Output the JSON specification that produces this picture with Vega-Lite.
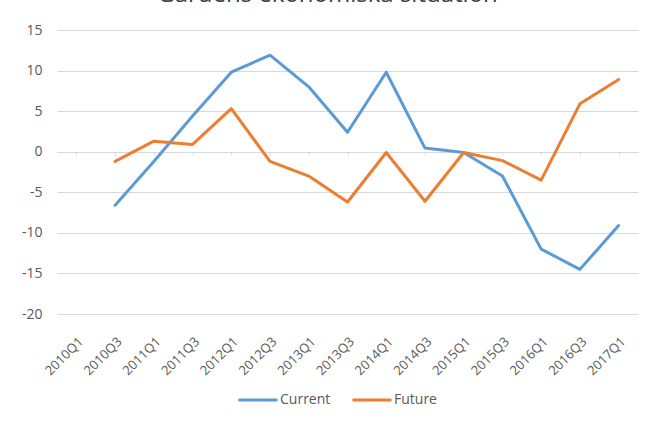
{
  "$schema": "https://vega.github.io/schema/vega-lite/v6.json",
  "width": 581,
  "height": 284,
  "autosize": {"type": "none"},
  "padding": {"left": 57, "top": 30, "right": 16, "bottom": 107},
  "background": "white",
  "title": {
    "text": "Gårdens ekonomiska situation",
    "fontSize": 24,
    "font": "Open Sans",
    "fontWeight": "normal",
    "color": "#404040",
    "anchor": "middle",
    "frame": "group",
    "baseline": "alphabetic",
    "offset": 0,
    "dy": 3,
    "dx": -20
  },
  "config": {
    "view": {"stroke": null},
    "font": "Open Sans"
  },
  "data": {
    "values": [
      {"period": "2010Q3", "series": "Current", "value": -6.6},
      {"period": "2011Q1", "series": "Current", "value": -1.2},
      {"period": "2011Q3", "series": "Current", "value": 4.4},
      {"period": "2012Q1", "series": "Current", "value": 9.8},
      {"period": "2012Q3", "series": "Current", "value": 11.9},
      {"period": "2013Q1", "series": "Current", "value": 8.0},
      {"period": "2013Q3", "series": "Current", "value": 2.4},
      {"period": "2014Q1", "series": "Current", "value": 9.8},
      {"period": "2014Q3", "series": "Current", "value": 0.45},
      {"period": "2015Q1", "series": "Current", "value": -0.1},
      {"period": "2015Q3", "series": "Current", "value": -3.0},
      {"period": "2016Q1", "series": "Current", "value": -12.0},
      {"period": "2016Q3", "series": "Current", "value": -14.5},
      {"period": "2017Q1", "series": "Current", "value": -9.1},
      {"period": "2010Q3", "series": "Future", "value": -1.2},
      {"period": "2011Q1", "series": "Future", "value": 1.3},
      {"period": "2011Q3", "series": "Future", "value": 0.9},
      {"period": "2012Q1", "series": "Future", "value": 5.3},
      {"period": "2012Q3", "series": "Future", "value": -1.2},
      {"period": "2013Q1", "series": "Future", "value": -3.0},
      {"period": "2013Q3", "series": "Future", "value": -6.2},
      {"period": "2014Q1", "series": "Future", "value": -0.1},
      {"period": "2014Q3", "series": "Future", "value": -6.1},
      {"period": "2015Q1", "series": "Future", "value": -0.1},
      {"period": "2015Q3", "series": "Future", "value": -1.1},
      {"period": "2016Q1", "series": "Future", "value": -3.5},
      {"period": "2016Q3", "series": "Future", "value": 5.9},
      {"period": "2017Q1", "series": "Future", "value": 8.9}
    ]
  },
  "mark": {"type": "line", "strokeWidth": 3, "strokeJoin": "round", "strokeCap": "round"},
  "encoding": {
    "x": {
      "field": "period",
      "type": "ordinal",
      "scale": {
        "type": "point",
        "padding": 0.5,
        "domain": ["2010Q1","2010Q3","2011Q1","2011Q3","2012Q1","2012Q3","2013Q1","2013Q3","2014Q1","2014Q3","2015Q1","2015Q3","2016Q1","2016Q3","2017Q1"]
      },
      "axis": {
        "title": null,
        "offset": -162,
        "domainColor": "#d9d9d9",
        "domainWidth": 1,
        "tickColor": "#d9d9d9",
        "tickSize": 3,
        "labelAngle": -45,
        "labelAlign": "right",
        "labelBaseline": "top",
        "labelPadding": 180,
        "labelFontSize": 13,
        "labelColor": "#595959",
        "grid": false
      }
    },
    "y": {
      "field": "value",
      "type": "quantitative",
      "scale": {"domain": [-20, 15], "nice": false, "zero": false},
      "axis": {
        "title": null,
        "values": [-20, -15, -10, -5, 0, 5, 10, 15],
        "labelExpr": "'' + datum.value",
        "domain": false,
        "ticks": false,
        "labelPadding": 15,
        "labelFontSize": 14,
        "labelColor": "#595959",
        "gridColor": "#d9d9d9",
        "gridWidth": 1.2
      }
    },
    "color": {
      "field": "series",
      "type": "nominal",
      "scale": {"domain": ["Current", "Future"], "range": ["#5B9BD5", "#ED7D31"]},
      "legend": {
        "title": null,
        "orient": "none",
        "legendX": 180,
        "legendY": 349,
        "direction": "horizontal",
        "symbolType": "stroke",
        "symbolSize": 1521,
        "symbolStrokeWidth": 3,
        "labelFontSize": 14,
        "labelColor": "#595959",
        "labelOffset": 1,
        "columnPadding": 15
      }
    }
  }
}
